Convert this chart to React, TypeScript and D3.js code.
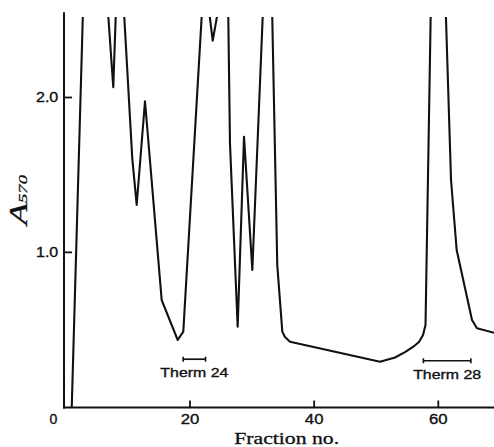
import React from "react";
import * as d3 from "d3";

// Fraction number (x) and absorbance A570 (y)
const fractions = [
  0.95, 3.0, 6.5, 7.64, 8.16, 9.2, 10.7, 11.41, 12.75, 15.44, 18.02, 18.92,
  22.3, 23.66, 26.04, 26.44, 27.68, 28.7, 30.04, 31.84, 33.13, 34.06, 34.87,
  35.3, 36.11, 50.61, 53.03, 54.64, 55.92, 56.89, 57.54, 57.94, 58.9, 61.0,
  62.05, 62.96, 65.43, 66.23, 69.5,
];
const absorbance = [
  0, 2.9, 2.72, 2.066, 2.67, 2.67, 1.607, 1.306, 1.976, 0.692, 0.434, 0.488,
  2.81, 2.367, 2.904, 1.704, 0.52, 1.747, 0.886, 2.648, 2.759, 0.918, 0.488,
  0.453, 0.423, 0.294, 0.321, 0.356, 0.389, 0.421, 0.466, 0.531, 2.836, 2.817,
  1.467, 1.015, 0.563, 0.51, 0.475,
];

const xTicks = [20, 40, 60];
const xTickLabels = ["20", "40", "60"];
const yTicks = [1, 2];
const yTickLabels = ["1.0", "2.0"];
const originLabel = "0";

const thermLabels = ["Therm 24", "Therm 28"];
const thermStart = [18.9, 57.6];
const thermEnd = [22.5, 65.25];
const thermLevel = [0.31, 0.3];

const xTitle = "Fraction no.";
const yTitleMain = "A";
const yTitleSub = "570";

const W = 494;
const H = 447;

export default function App() {
  const axisX = 64;
  const axisY = 407.5;
  const x = d3.scaleLinear().domain([0, 69]).range([65.85, 65.85 + 69 * 6.2075]);
  const y = d3.scaleLinear().domain([0, 2.5]).range([407.2, 407.2 - 2.5 * 154.85]);
  const clipTop = 17;

  const pts: [number, number][] = fractions.map((f, i) => [f, absorbance[i]]);
  const line = d3
    .line<[number, number]>()
    .x((d) => x(d[0]))
    .y((d) => y(d[1]));

  const charW = (s: string) =>
    s.split("").reduce((a, c) => a + (c === "." ? 3.7 : 9.3), 0);

  const ink = "#111";
  const sans = "'Liberation Sans', Arial, sans-serif";
  const serif = "'Liberation Serif', 'Times New Roman', serif";
  const heavy = { stroke: ink, strokeWidth: 0.35 };

  return (
    <svg
      width={W}
      height={H}
      style={{ position: "absolute", left: 0, top: 0, background: "#fff" }}
    >
      <defs>
        <clipPath id="plotclip">
          <rect x={axisX} y={clipTop} width={W - axisX} height={axisY - clipTop + 1} />
        </clipPath>
      </defs>

      {/* data trace */}
      <path
        d={line(pts) || ""}
        fill="none"
        stroke={ink}
        strokeWidth={2.1}
        strokeLinejoin="round"
        clipPath="url(#plotclip)"
      />

      {/* axes */}
      <line x1={axisX} y1={12.3} x2={axisX} y2={axisY + 1} stroke={ink} strokeWidth={2} />
      <line x1={axisX - 1} y1={axisY} x2={W} y2={axisY} stroke={ink} strokeWidth={2} />

      {/* x ticks */}
      {xTicks.map((t, i) => (
        <g key={"xt" + i}>
          <line x1={x(t)} x2={x(t)} y1={axisY} y2={axisY - 7} stroke={ink} strokeWidth={1.8} />
          <text
            x={x(t)}
            y={axisY + 16}
            textAnchor="middle"
            fontFamily={sans}
            fontSize={14}
            fill={ink}
            {...heavy}
            textLength={charW(xTickLabels[i])}
            lengthAdjust="spacingAndGlyphs"
          >
            {xTickLabels[i]}
          </text>
        </g>
      ))}
      <text
        x={x(0) - 12.5}
        y={axisY + 16}
        textAnchor="middle"
        fontFamily={sans}
        fontSize={14}
        fill={ink}
        {...heavy}
      >
        {originLabel}
      </text>

      {/* y ticks */}
      {yTicks.map((t, i) => (
        <g key={"yt" + i}>
          <line x1={axisX} x2={axisX + 8} y1={y(t)} y2={y(t)} stroke={ink} strokeWidth={1.8} />
          <text
            x={axisX - 5.7}
            y={y(t) + 4.6}
            textAnchor="end"
            fontFamily={sans}
            fontSize={14}
            fill={ink}
            {...heavy}
            textLength={charW(yTickLabels[i])}
            lengthAdjust="spacingAndGlyphs"
          >
            {yTickLabels[i]}
          </text>
        </g>
      ))}

      {/* Therm markers */}
      {thermLabels.map((lab, i) => {
        const x1 = x(thermStart[i]);
        const x2 = x(thermEnd[i]);
        const yy = y(thermLevel[i]);
        return (
          <g key={"th" + i}>
            <line x1={x1} x2={x2} y1={yy} y2={yy} stroke={ink} strokeWidth={1.7} />
            <line x1={x1} x2={x1} y1={yy - 2.5} y2={yy + 2.5} stroke={ink} strokeWidth={1.6} />
            <line x1={x2} x2={x2} y1={yy - 2.5} y2={yy + 2.5} stroke={ink} strokeWidth={1.6} />
            <text
              x={(x1 + x2) / 2}
              y={yy + 18}
              textAnchor="middle"
              fontFamily={sans}
              fontSize={13}
              fill={ink}
              {...heavy}
              textLength={68}
              lengthAdjust="spacingAndGlyphs"
            >
              {lab}
            </text>
          </g>
        );
      })}

      {/* axis titles */}
      <text
        x={286.7}
        y={443.5}
        textAnchor="middle"
        fontFamily={serif}
        fontSize={16.5}
        fill={ink}
        stroke={ink}
        strokeWidth={0.3}
        textLength={105}
        lengthAdjust="spacingAndGlyphs"
      >
        {xTitle}
      </text>
      <text
        transform="translate(26.7,225) rotate(-90)"
        fontFamily={serif}
        fontStyle="italic"
        fill={ink}
        stroke={ink}
        strokeWidth={0.3}
        textLength={50}
        lengthAdjust="spacingAndGlyphs"
      >
        <tspan fontSize={25}>{yTitleMain}</tspan>
        <tspan fontSize={13} dy={0}>
          {yTitleSub}
        </tspan>
      </text>
    </svg>
  );
}
